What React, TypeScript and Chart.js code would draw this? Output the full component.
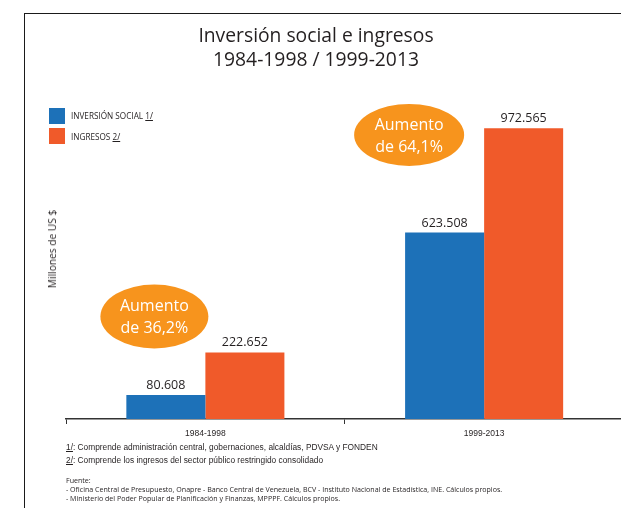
import React, { useEffect, useRef } from "react";
import { Chart, registerables } from "chart.js";

Chart.register(...registerables);

const categories = ["1984-1998", "1999-2013"];
const inversionSocial = [80608, 623508];
const ingresos = [222652, 972565];
const seriesNames = ["INVERSIÓN SOCIAL", "INGRESOS"];
const seriesNotes = ["1/", "2/"];
const seriesColors = ["#1d71b8", "#f05a2a"];
const bubbleLines = [
  ["Aumento", "de 36,2%"],
  ["Aumento", "de 64,1%"],
];
const yMax = 1000000;

const fmt = (v: number) => {
  const s = String(Math.round(v));
  return s.replace(/\B(?=(\d{3})+(?!\d))/g, ".");
};

const labelPlugin = {
  id: "valueLabels",
  afterDatasetsDraw(chart: any) {
    const ctx = chart.ctx;
    ctx.save();
    ctx.font = "12.5px 'Open Sans', sans-serif";
    ctx.fillStyle = "#231f20";
    ctx.textAlign = "center";
    ctx.textBaseline = "alphabetic";
    chart.data.datasets.forEach((ds: any, di: number) => {
      const meta = chart.getDatasetMeta(di);
      meta.data.forEach((bar: any, i: number) => {
        ctx.fillText(fmt(ds.data[i]), bar.x, bar.y - 6);
      });
    });
    ctx.restore();
  },
};

// bubble placement: offsets relative to each category (annotation layout)
const bubbleLayout = [
  { dx: -51, value: 343000, rx: 54, ry: 32 },
  { dx: -75, value: 950000, rx: 55, ry: 31 },
];

const bubblePlugin = {
  id: "bubbles",
  afterDatasetsDraw(chart: any) {
    const ctx = chart.ctx;
    const xs = chart.scales.x;
    const ys = chart.scales.y;
    ctx.save();
    bubbleLines.forEach((lines, i) => {
      const lay = bubbleLayout[i];
      const cx = xs.getPixelForValue(i) + lay.dx;
      const cy = ys.getPixelForValue(lay.value);
      ctx.beginPath();
      ctx.ellipse(cx, cy, lay.rx, lay.ry, 0, 0, Math.PI * 2);
      ctx.fillStyle = "#f7941d";
      ctx.fill();
      ctx.fillStyle = "#ffffff";
      ctx.font = "16px 'Open Sans', sans-serif";
      ctx.textAlign = "center";
      ctx.textBaseline = "middle";
      ctx.fillText(lines[0], cx, cy - 10);
      ctx.fillText(lines[1], cx, cy + 12);
    });
    ctx.restore();
  },
};

export default function App() {
  const ref = useRef<HTMLCanvasElement | null>(null);
  useEffect(() => {
    if (!ref.current) return;
    const chart = new Chart(ref.current, {
      type: "bar",
      data: {
        labels: categories,
        datasets: [
          {
            label: seriesNames[0],
            data: inversionSocial,
            backgroundColor: seriesColors[0],
            categoryPercentage: 0.567,
            barPercentage: 1,
          },
          {
            label: seriesNames[1],
            data: ingresos,
            backgroundColor: seriesColors[1],
            categoryPercentage: 0.567,
            barPercentage: 1,
          },
        ],
      },
      options: {
        animation: false,
        responsive: false,
        maintainAspectRatio: false,
        layout: { padding: { left: 66, right: 16.5, top: 120, bottom: 0 } },
        plugins: {
          legend: { display: false },
          tooltip: { enabled: false },
          title: { display: false },
        },
        scales: {
          y: { display: false, min: 0, max: yMax },
          x: {
            offset: true,
            grid: {
              display: true,
              drawOnChartArea: false,
              drawTicks: true,
              tickLength: 5,
              color: "#333333",
              lineWidth: 1,
            },
            border: { display: true, color: "#333333", width: 1.5 },
            ticks: {
              color: "#231f20",
              font: { family: "'Liberation Sans', Arial, sans-serif", size: 8.5 },
              padding: 5,
            },
            afterFit: (s: any) => {
              s.height = 89;
            },
          },
        },
      },
      plugins: [labelPlugin, bubblePlugin],
    });
    return () => chart.destroy();
  }, []);

  const narrow = "'Liberation Sans Narrow', 'Arial Narrow', 'Liberation Sans', Arial, sans-serif";
  const open = "'Open Sans', sans-serif";

  return (
    <div
      style={{
        position: "fixed",
        left: 0,
        top: 0,
        width: 621,
        height: 508,
        overflow: "hidden",
        background: "#ffffff",
      }}
    >
      <div
        style={{
          position: "absolute",
          left: 24,
          top: 12.5,
          width: 700,
          height: 600,
          borderTop: "1.5px solid #1a1a1a",
          borderLeft: "1.5px solid #1a1a1a",
        }}
      />
      <canvas
        ref={ref}
        width={640}
        height={508}
        style={{ position: "absolute", left: 0, top: 0, width: 640, height: 508 }}
      />
      <div
        style={{
          position: "absolute",
          left: 116,
          width: 400,
          top: 23,
          textAlign: "center",
          fontFamily: open,
          fontSize: 19.3,
          lineHeight: "24px",
          color: "#231f20",
        }}
      >
        Inversión social e ingresos
        <br />
        1984-1998 / 1999-2013
      </div>
      {seriesNames.map((n, i) => (
        <div
          key={n}
          style={{
            position: "absolute",
            left: 49,
            top: 107.5 + i * 20.5,
            height: 16,
            display: "flex",
            alignItems: "center",
            fontFamily: open,
            fontSize: 8.2,
            color: "#231f20",
            whiteSpace: "nowrap",
          }}
        >
          <span
            style={{
              display: "inline-block",
              width: 16,
              height: 16,
              background: seriesColors[i],
              marginRight: 6,
            }}
          />
          <span>
            {n} <span style={{ textDecoration: "underline" }}>{seriesNotes[i]}</span>
          </span>
        </div>
      ))}
      <div
        style={{
          position: "absolute",
          left: 52,
          top: 249,
          transform: "translate(-50%, -50%) rotate(-90deg)",
          fontFamily: open,
          fontSize: 10.2,
          color: "#231f20",
          whiteSpace: "nowrap",
        }}
      >
        Millones de US $
      </div>
      <div
        style={{
          position: "absolute",
          left: 66,
          top: 440,
          fontFamily: narrow,
          fontSize: 9.7,
          lineHeight: "13px",
          color: "#231f20",
          whiteSpace: "nowrap",
          transform: "scaleX(0.86)",
          transformOrigin: "0 0",
        }}
      >
        <div>
          <span style={{ textDecoration: "underline" }}>1/</span>: Comprende administración central, gobernaciones, alcaldías, PDVSA y FONDEN
        </div>
        <div>
          <span style={{ textDecoration: "underline" }}>2/</span>: Comprende los ingresos del sector público restringido consolidado
        </div>
      </div>
      <div
        style={{
          position: "absolute",
          left: 66,
          top: 476,
          fontFamily: open,
          fontSize: 7.08,
          lineHeight: "9px",
          color: "#231f20",
          whiteSpace: "nowrap",
        }}
      >
        <div>Fuente:</div>
        <div>
          - Oficina Central de Presupuesto, Onapre - Banco Central de Venezuela, BCV - Instituto Nacional de Estadística, INE. Cálculos propios.
        </div>
        <div>- Ministerio del Poder Popular de Planificación y Finanzas, MPPPF. Cálculos propios.</div>
      </div>
    </div>
  );
}
